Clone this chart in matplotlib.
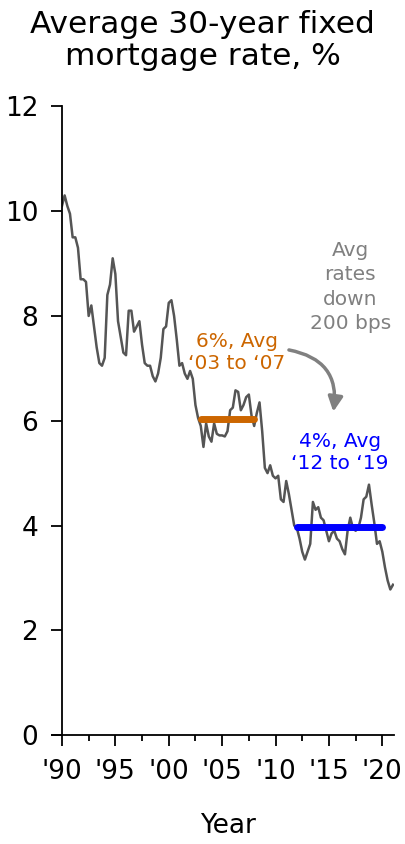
import matplotlib
matplotlib.use('Agg')
import matplotlib.pyplot as plt
from matplotlib.ticker import MultipleLocator

# quarterly average 30-year fixed mortgage rate, 1990 Q1 .. 2021 Q1
years = [1990 + q / 4 for q in range(125)]
rates = [
    10.1, 10.3, 10.1, 9.95,
    9.5, 9.5, 9.3, 8.7,
    8.7, 8.65, 8.0, 8.2,
    7.8, 7.4, 7.1, 7.05,
    7.2, 8.4, 8.6, 9.1,
    8.8, 7.9, 7.6, 7.3,
    7.25, 8.1, 8.1, 7.7,
    7.8, 7.9, 7.45, 7.1,
    7.05, 7.05, 6.85, 6.75,
    6.9, 7.2, 7.75, 7.8,
    8.25, 8.3, 8.0, 7.55,
    7.05, 7.1, 6.9, 6.8,
    6.95, 6.8, 6.3, 6.05,
    5.9, 5.5, 5.95, 5.7,
    5.6, 5.95, 5.75, 5.72,
    5.72, 5.7, 5.8, 6.2,
    6.25, 6.58, 6.55, 6.2,
    6.3, 6.45, 6.5, 6.1,
    5.9, 6.15, 6.35, 5.8,
    5.1, 5.0, 5.15, 4.95,
    4.9, 4.95, 4.5, 4.45,
    4.85, 4.6, 4.3, 4.0,
    3.95, 3.75, 3.5, 3.35,
    3.5, 3.65, 4.45, 4.3,
    4.35, 4.15, 4.1, 3.9,
    3.7, 3.85, 3.9, 3.75,
    3.7, 3.55, 3.45, 3.9,
    4.15, 3.95, 3.9, 3.95,
    4.15, 4.5, 4.55, 4.78,
    4.4, 4.05, 3.65, 3.7,
    3.5, 3.2, 2.95, 2.78,
    2.87,
]

avg_0307 = 6.04
avg_1219 = 3.97
xtick_years = [1990, 1995, 2000, 2005, 2010, 2015, 2020]
xtick_labels = ["'90", "'95", "'00", "'05", "'10", "'15", "'20"]

plt.rcParams['font.family'] = ['DejaVu Sans']

fig = plt.figure(figsize=(4.05, 8.44), dpi=100)
ax = fig.add_axes([0.153, 0.129, 0.820, 0.745])

ax.plot(years, rates, color='#555555', lw=1.8)
ax.plot([2003, 2008], [avg_0307, avg_0307], color='#cc6600', lw=5, solid_capstyle='round')
ax.plot([2012, 2020], [avg_1219, avg_1219], color='#0000ff', lw=5, solid_capstyle='round')

ax.text(2006.4, 7.3, "6%, Avg\n\u201803 to \u201807", color='#cc6600', fontsize=14.5,
        ha='center', va='center', linespacing=1.2)
ax.text(2016.0, 5.4, "4%, Avg\n\u201812 to \u201819", color='#0000ff', fontsize=14.5,
        ha='center', va='center', linespacing=1.2)
ax.text(2017.0, 8.55, "Avg\nrates\ndown\n200 bps", color='#808080', fontsize=14.5,
        ha='center', va='center', linespacing=1.35)
ax.annotate('', xy=(2015.37, 6.12), xytext=(2011.0, 7.36),
            arrowprops=dict(arrowstyle='-|>', color='#808080', lw=2.5,
                            connectionstyle='arc3,rad=-0.5', mutation_scale=22))

ax.set_xlim(1990, 2021.1)
ax.set_ylim(0, 12)
ax.set_xticks(xtick_years)
ax.set_xticklabels(xtick_labels)
ax.xaxis.set_minor_locator(MultipleLocator(2.5))
ax.set_yticks(range(0, 13, 2))
ax.tick_params(axis='both', which='major', labelsize=19, length=8, width=1.3, direction='out')
ax.tick_params(axis='x', which='minor', length=4, width=1.3)
ax.tick_params(axis='y', pad=9)
ax.tick_params(axis='x', pad=9)
for s in ['top', 'right']:
    ax.spines[s].set_visible(False)
for s in ['left', 'bottom']:
    ax.spines[s].set_linewidth(1.3)
ax.spines['bottom'].set_bounds(1989.1, 2021.1)
ax.set_xlabel('Year', fontsize=19, labelpad=20)

fig.text(0.5, 0.952, "Average 30-year fixed\nmortgage rate, %", ha='center', va='center',
         fontsize=22.5, linespacing=1.15)

fig.savefig('out.png', dpi=100)
